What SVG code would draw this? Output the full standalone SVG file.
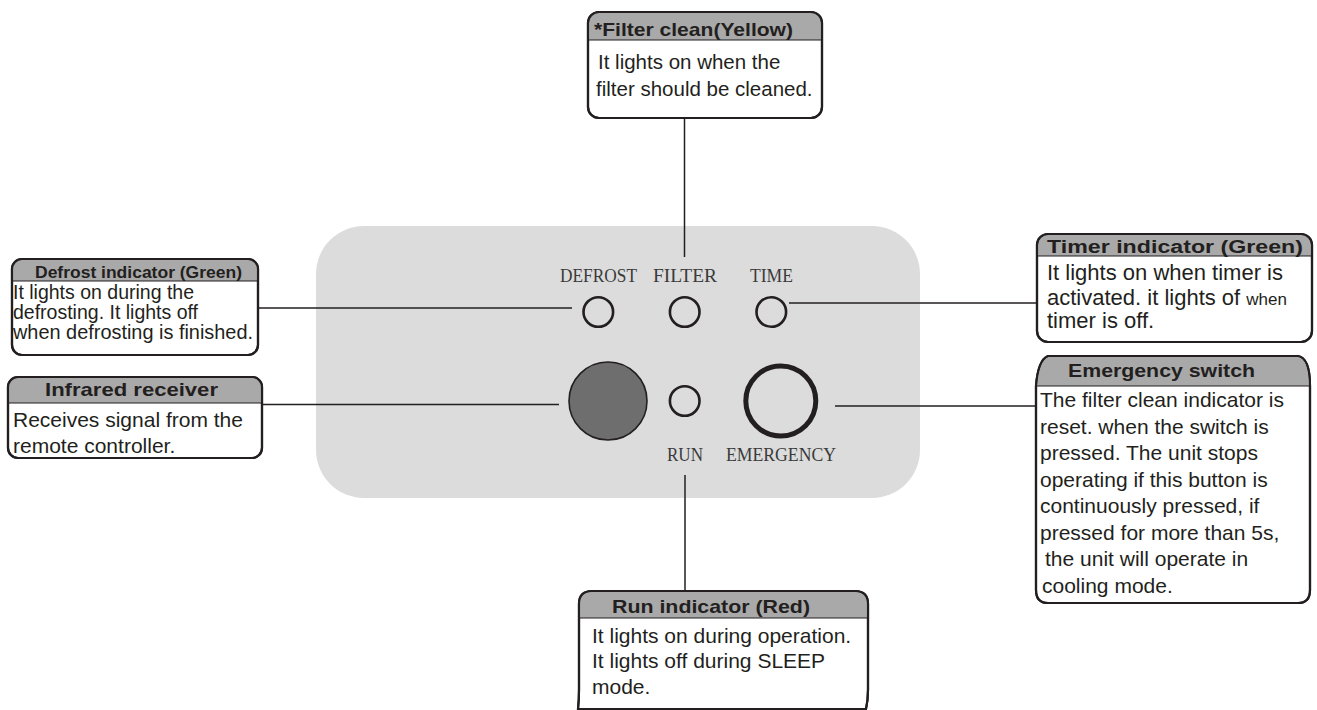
<svg xmlns="http://www.w3.org/2000/svg" width="1317" height="710" viewBox="0 0 1317 710">
<style>
.box{fill:#ffffff;stroke:#231f20;stroke-width:2.2}
.hdr{fill:#a9a9a9}
.hl{stroke:#231f20;stroke-width:1.2}
.title{font-family:"Liberation Sans",Arial,sans-serif;font-weight:bold;fill:#231f20}
.body{font-family:"Liberation Sans",Arial,sans-serif;fill:#231f20}
.lbl{font-family:"Liberation Serif","Times New Roman",serif;font-size:19px;fill:#3a3a3a}
.led{fill:none;stroke:#231f20;stroke-width:2.6}
.conn line{stroke:#231f20;stroke-width:1.5}
</style>
<rect width="1317" height="710" fill="#ffffff"/>
<g id="panel">
<rect x="316" y="226" width="604" height="272" rx="48" ry="48" fill="#dcdcdc"/>
<text class="lbl" x="560" y="282" textLength="77" lengthAdjust="spacingAndGlyphs">DEFROST</text>
<text class="lbl" x="653" y="282" textLength="64" lengthAdjust="spacingAndGlyphs">FILTER</text>
<text class="lbl" x="750" y="282" textLength="43" lengthAdjust="spacingAndGlyphs">TIME</text>
<text class="lbl" x="667" y="461" textLength="36" lengthAdjust="spacingAndGlyphs">RUN</text>
<text class="lbl" x="726" y="461" textLength="110" lengthAdjust="spacingAndGlyphs">EMERGENCY</text>
<circle class="led" cx="598.3" cy="312" r="14.8"/>
<circle class="led" cx="684.7" cy="312" r="14.8"/>
<circle class="led" cx="771.3" cy="312" r="14.8"/>
<circle class="led" cx="684.7" cy="401" r="14.8"/>
<circle cx="608" cy="401" r="39" fill="#6e6e6e" stroke="#231f20" stroke-width="1.6"/>
<circle cx="780.8" cy="401" r="35" fill="none" stroke="#231f20" stroke-width="5"/>
</g>
<g id="connectors" class="conn">
<line x1="684.5" y1="118" x2="684.5" y2="257"/>
<line x1="258" y1="308" x2="572" y2="308"/>
<line x1="262" y1="404.5" x2="559" y2="404.5"/>
<line x1="789" y1="303" x2="1037" y2="303"/>
<line x1="835" y1="406" x2="1036" y2="406"/>
<line x1="685" y1="475" x2="685" y2="591"/>
</g>
<g id="filter-clean">
<rect class="box" x="588" y="12" width="234" height="106" rx="11"/>
<path class="hdr" d="M589.1,40 V23 Q589.1,13.1 599,13.1 H811 Q820.9,13.1 820.9,23 V40 Z"/>
<line class="hl" x1="589" y1="40" x2="821" y2="40"/>
<rect class="box" x="588" y="12" width="234" height="106" rx="11" fill="none" style="fill:none"/>
<text class="title" x="594" y="36" font-size="19" textLength="199" lengthAdjust="spacingAndGlyphs">*Filter clean(Yellow)</text>
<text class="body" x="598" y="69" font-size="20.5">It lights on when the</text>
<text class="body" x="596" y="96" font-size="20.5">filter should be cleaned.</text>
</g>
<g id="defrost-indicator">
<rect class="box" x="12" y="259" width="246" height="96" rx="10"/>
<path class="hdr" d="M13.1,281 V269 Q13.1,260.1 22,260.1 H248 Q256.9,260.1 256.9,269 V281 Z"/>
<line class="hl" x1="13" y1="281" x2="257" y2="281"/>
<rect class="box" x="12" y="259" width="246" height="96" rx="10" style="fill:none"/>
<text class="title" x="35" y="278" font-size="17" textLength="207" lengthAdjust="spacingAndGlyphs">Defrost indicator (Green)</text>
<text class="body" x="13" y="299" font-size="19.5">It lights on during the</text>
<text class="body" x="13" y="319" font-size="19.5">defrosting. It lights off</text>
<text class="body" x="13" y="339" font-size="19.5" textLength="240" lengthAdjust="spacingAndGlyphs">when defrosting is finished.</text>
</g>
<g id="infrared-receiver">
<rect class="box" x="8" y="377" width="254" height="81" rx="10"/>
<path class="hdr" d="M9.1,403 V387 Q9.1,378.1 18,378.1 H252 Q260.9,378.1 260.9,387 V403 Z"/>
<line class="hl" x1="9" y1="403" x2="261" y2="403"/>
<rect class="box" x="8" y="377" width="254" height="81" rx="10" style="fill:none"/>
<text class="title" x="45" y="396" font-size="18.5" textLength="173" lengthAdjust="spacingAndGlyphs">Infrared receiver</text>
<text class="body" x="13" y="427" font-size="21">Receives signal from the</text>
<text class="body" x="13" y="453" font-size="21">remote controller.</text>
</g>
<g id="timer-indicator">
<rect class="box" x="1037" y="234" width="275" height="108" rx="11"/>
<path class="hdr" d="M1038.1,256 V245 Q1038.1,235.1 1048,235.1 H1301 Q1310.9,235.1 1310.9,245 V256 Z"/>
<line class="hl" x1="1038" y1="256" x2="1311" y2="256"/>
<rect class="box" x="1037" y="234" width="275" height="108" rx="11" style="fill:none"/>
<text class="title" x="1047" y="253" font-size="18" textLength="256" lengthAdjust="spacingAndGlyphs">Timer indicator (Green)</text>
<text class="body" x="1047" y="280" font-size="22">It lights on when timer is</text>
<text class="body" x="1047" y="305" font-size="22">activated. it lights of <tspan font-size="17">when</tspan></text>
<text class="body" x="1047" y="328" font-size="22">timer is off.</text>
</g>
<g id="emergency-switch">
<path class="box" d="M1036,386 Q1038,360 1048,356 H1298 Q1310,358 1310,386 V590 Q1310,603 1298,603 H1048 Q1036,603 1036,590 Z"/>
<path class="hdr" d="M1037.1,386 Q1039,361 1048.5,357.1 H1297.5 Q1308.9,359 1308.9,386 Z"/>
<line class="hl" x1="1037" y1="386" x2="1309" y2="386"/>
<path class="box" style="fill:none" d="M1036,386 Q1038,360 1048,356 H1298 Q1310,358 1310,386 V590 Q1310,603 1298,603 H1048 Q1036,603 1036,590 Z"/>
<text class="title" x="1068" y="377" font-size="18.5" textLength="187" lengthAdjust="spacingAndGlyphs">Emergency switch</text>
<text class="body" x="1040" y="407" font-size="21">The filter clean indicator is</text>
<text class="body" x="1040" y="433.5" font-size="21">reset. when the switch is</text>
<text class="body" x="1040" y="460" font-size="21">pressed. The unit stops</text>
<text class="body" x="1040" y="486.5" font-size="21">operating if this button is</text>
<text class="body" x="1040" y="513" font-size="21">continuously pressed, if</text>
<text class="body" x="1040" y="539.5" font-size="21">pressed for more than 5s,</text>
<text class="body" x="1045" y="566" font-size="21">the unit will operate in</text>
<text class="body" x="1042" y="592.5" font-size="21">cooling mode.</text>
</g>
<g id="run-indicator">
<path class="box" d="M578,709 Q579,700 579,690 V604 Q579,591 592,591 H855 Q868,591 868,604 V690 Q868,700 866,709"/>
<path class="hdr" d="M580.1,618 V604 Q580.1,592.1 592,592.1 H855 Q866.9,592.1 866.9,604 V618 Z"/>
<line class="hl" x1="580" y1="618" x2="867" y2="618"/>
<path class="box" style="fill:none" d="M578,709 Q579,700 579,690 V604 Q579,591 592,591 H855 Q868,591 868,604 V690 Q868,700 866,709 Z"/>
<text class="title" x="612" y="613" font-size="18.5" textLength="198" lengthAdjust="spacingAndGlyphs">Run indicator (Red)</text>
<text class="body" x="592" y="643" font-size="21">It lights on during operation.</text>
<text class="body" x="592" y="668" font-size="21">It lights off during SLEEP</text>
<text class="body" x="592" y="694" font-size="21">mode.</text>
</g>
</svg>
